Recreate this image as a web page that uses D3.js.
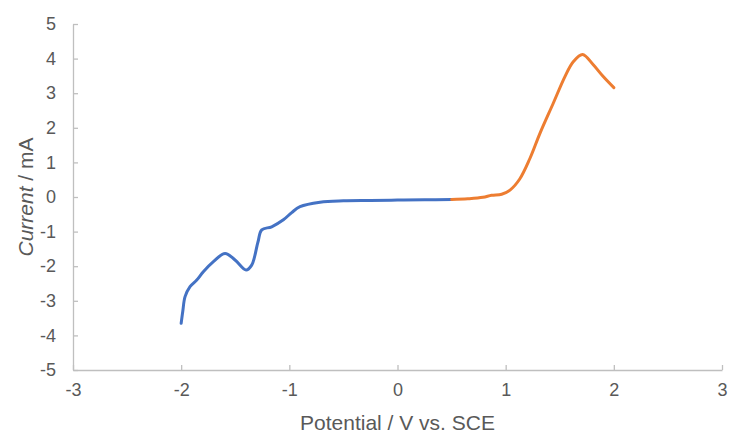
<!DOCTYPE html>
<html>
<head>
<meta charset="utf-8">
<script src="https://cdn.jsdelivr.net/npm/d3@7"></script>
<style>
  html, body { margin: 0; padding: 0; background: #fff; }
  svg { display: block; }
</style>
</head>
<body>
<svg id="chart" width="729" height="435"></svg>
<script>
// Cathodic sweep (blue) and anodic sweep (orange): potential in V vs. SCE, current in mA
const cathodicPotential = [-2.00, -1.985, -1.964, -1.918, -1.856, -1.795, -1.702, -1.594, -1.502, -1.40, -1.348, -1.290, -1.255, -1.163, -1.055, -0.978, -0.901, -0.716, -0.50, -0.25, 0.0, 0.25, 0.50];
const cathodicCurrent   = [-3.65, -3.30, -2.88, -2.59, -2.40, -2.16, -1.87, -1.63, -1.82, -2.11, -1.97, -1.30, -0.95, -0.86, -0.66, -0.45, -0.28, -0.15, -0.11, -0.10, -0.09, -0.08, -0.07];

const anodicPotential = [0.50, 0.65, 0.79, 0.87, 0.963, 1.04, 1.13, 1.225, 1.317, 1.44, 1.548, 1.625, 1.711, 1.81, 1.902, 2.00];
const anodicCurrent   = [-0.07, -0.05, -0.01, 0.05, 0.08, 0.20, 0.52, 1.12, 1.84, 2.71, 3.48, 3.91, 4.12, 3.82, 3.48, 3.16];

const xTicks = [-3, -2, -1, 0, 1, 2, 3];
const yTicks = [-5, -4, -3, -2, -1, 0, 1, 2, 3, 4, 5];

const svg = d3.select("#chart");
const plot = { left: 73, right: 722, top: 24, bottom: 370 };

const x = d3.scaleLinear().domain([-3, 3]).range([plot.left, plot.right]);
const y = d3.scaleLinear().domain([-5, 5]).range([plot.bottom, plot.top]);

const axisColor = "#bfbfbf";
const textColor = "#595959";
const font = "'Liberation Sans', Arial, sans-serif";
const tickFormat = d => String(d);   // plain hyphen-minus for negatives

// x axis along the bottom, ticks pointing inward
const xAxis = svg.append("g")
  .attr("transform", `translate(0,${plot.bottom})`)
  .call(d3.axisBottom(x).tickValues(xTicks).tickSizeInner(-5).tickSizeOuter(0).tickPadding(13).tickFormat(tickFormat));
xAxis.select(".domain").attr("stroke", axisColor).attr("stroke-width", 1.3);
xAxis.selectAll(".tick line").attr("stroke", axisColor).attr("stroke-width", 1.3);
xAxis.selectAll(".tick text").attr("fill", textColor).attr("font-size", 18).attr("font-family", font);

// y axis on the left, ticks pointing inward
const yAxis = svg.append("g")
  .attr("transform", `translate(${plot.left},0)`)
  .call(d3.axisLeft(y).tickValues(yTicks).tickSizeInner(-5).tickSizeOuter(0).tickPadding(17).tickFormat(tickFormat));
yAxis.select(".domain").attr("stroke", axisColor).attr("stroke-width", 1.3);
yAxis.selectAll(".tick line").attr("stroke", axisColor).attr("stroke-width", 1.3);
yAxis.selectAll(".tick text").attr("fill", textColor).attr("font-size", 18).attr("font-family", font);

// Axis titles
svg.append("text")
  .attr("x", (plot.left + plot.right) / 2)
  .attr("y", 430)
  .attr("text-anchor", "middle")
  .attr("fill", textColor)
  .attr("font-size", 21)
  .attr("font-family", font)
  .text("Potential / V vs. SCE");

const yTitle = svg.append("text")
  .attr("transform", `translate(33,${(plot.top + plot.bottom) / 2}) rotate(-90)`)
  .attr("text-anchor", "middle")
  .attr("fill", textColor)
  .attr("font-size", 21)
  .attr("font-family", font);
yTitle.append("tspan").attr("font-style", "italic").text("Current");
yTitle.append("tspan").text(" / mA");

// Voltammogram curves
const line = d3.line()
  .x(d => x(d[0]))
  .y(d => y(d[1]))
  .curve(d3.curveCatmullRom.alpha(0.5));

svg.append("path")
  .datum(d3.zip(cathodicPotential, cathodicCurrent))
  .attr("d", line)
  .attr("fill", "none")
  .attr("stroke", "#4472C4")
  .attr("stroke-width", 3)
  .attr("stroke-linecap", "round")
  .attr("stroke-linejoin", "round");

svg.append("path")
  .datum(d3.zip(anodicPotential, anodicCurrent))
  .attr("d", line)
  .attr("fill", "none")
  .attr("stroke", "#ED7D31")
  .attr("stroke-width", 3)
  .attr("stroke-linecap", "round")
  .attr("stroke-linejoin", "round");
</script>
</body>
</html>
